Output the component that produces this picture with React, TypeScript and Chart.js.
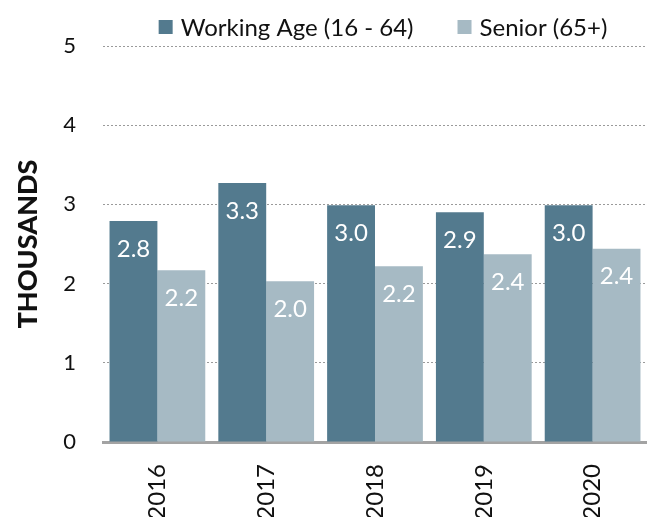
import React, { useEffect, useRef } from "react";
import { Chart, registerables } from "chart.js";

Chart.register(...registerables);

const categories = ["2016", "2017", "2018", "2019", "2020"];
const workingAge = [2.79, 3.27, 2.99, 2.9, 2.99];
const senior = [2.17, 2.03, 2.22, 2.37, 2.44];
const seriesNames = ["Working Age (16 - 64)", "Senior (65+)"];
const yTicks = [0, 1, 2, 3, 4, 5];

const FONT = "Lato, 'Noto Sans', sans-serif";
const WORK_COLOR = "#537A8E";
const SENIOR_COLOR = "#A6BAC4";

const dataLabelPlugin = {
  id: "dataLabels",
  afterDatasetsDraw(chart: any) {
    const ctx = chart.ctx;
    ctx.save();
    ctx.fillStyle = "#FFFFFF";
    ctx.font = `24px ${FONT}`;
    ctx.textAlign = "center";
    ctx.textBaseline = "middle";
    chart.data.datasets.forEach((ds: any, di: number) => {
      const meta = chart.getDatasetMeta(di);
      meta.data.forEach((el: any, i: number) => {
        const v = ds.data[i] as number;
        ctx.fillText(v.toFixed(1), el.x, el.y + 28);
      });
    });
    ctx.restore();
  },
};

const legendPlugin = {
  id: "customLegend",
  afterDraw(chart: any) {
    const ctx = chart.ctx;
    const area = chart.chartArea;
    ctx.save();
    ctx.font = `24px ${FONT}`;
    ctx.textBaseline = "middle";
    ctx.textAlign = "left";
    const box = 14;
    const gapText = 8;
    const gapItem = 44;
    const items = chart.data.datasets.map((ds: any) => ({
      label: ds.label,
      color: ds.backgroundColor,
      w: ctx.measureText(ds.label).width,
    }));
    let total = 0;
    items.forEach((it: any, i: number) => {
      total += box + gapText + it.w + (i < items.length - 1 ? gapItem : 0);
    });
    let x = (area.left + area.right) / 2 + 8 - total / 2;
    const y = 27;
    items.forEach((it: any) => {
      ctx.fillStyle = it.color;
      ctx.fillRect(x, y - box / 2, box, box);
      x += box + gapText;
      ctx.fillStyle = "#111111";
      ctx.fillText(it.label, x, y + 1);
      x += it.w + gapItem;
    });
    ctx.restore();
  },
};

export default function App() {
  const ref = useRef<HTMLCanvasElement | null>(null);
  useEffect(() => {
    if (!ref.current) return;
    const chart = new Chart(ref.current, {
      type: "bar",
      data: {
        labels: categories,
        datasets: [
          {
            label: seriesNames[0],
            data: workingAge,
            backgroundColor: WORK_COLOR,
            categoryPercentage: 0.88,
            barPercentage: 1.0,
          },
          {
            label: seriesNames[1],
            data: senior,
            backgroundColor: SENIOR_COLOR,
            categoryPercentage: 0.88,
            barPercentage: 1.0,
          },
        ],
      },
      options: {
        responsive: false,
        animation: false,
        layout: { padding: { top: 46, right: 0, bottom: 0, left: 0 } },
        plugins: {
          legend: { display: false },
          tooltip: { enabled: false },
        },
        scales: {
          x: {
            grid: { display: false },
            border: { display: true, color: "#A3A3A3", width: 3 },
            ticks: {
              color: "#111111",
              font: { family: FONT, size: 24 },
              minRotation: 90,
              maxRotation: 90,
              padding: 14,
            },
            afterFit: (axis: any) => {
              axis.height = 75;
            },
          },
          y: {
            min: 0,
            max: 5,
            afterBuildTicks: (axis: any) => {
              axis.ticks = yTicks.map((v) => ({ value: v }));
            },
            grid: {
              color: "#9A9A9A",
              lineWidth: 1,
              drawTicks: false,
            },
            border: { display: false, dash: [2, 2] },
            ticks: {
              color: "#111111",
              font: { family: FONT, size: 22 },
              padding: 27,
            },
            title: {
              display: true,
              text: "THOUSANDS",
              color: "#111111",
              font: { family: FONT, size: 27, weight: "900" },
              padding: { top: 12, bottom: 0 },
            },
            afterFit: (axis: any) => {
              axis.width = 103;
            },
          },
        },
      },
      plugins: [dataLabelPlugin, legendPlugin],
    });
    return () => chart.destroy();
  }, []);
  return (
    <div style={{ position: "fixed", left: 0, top: 0, width: 647, height: 517, background: "#fff" }}>
      <canvas ref={ref} width={647} height={517} />
    </div>
  );
}
